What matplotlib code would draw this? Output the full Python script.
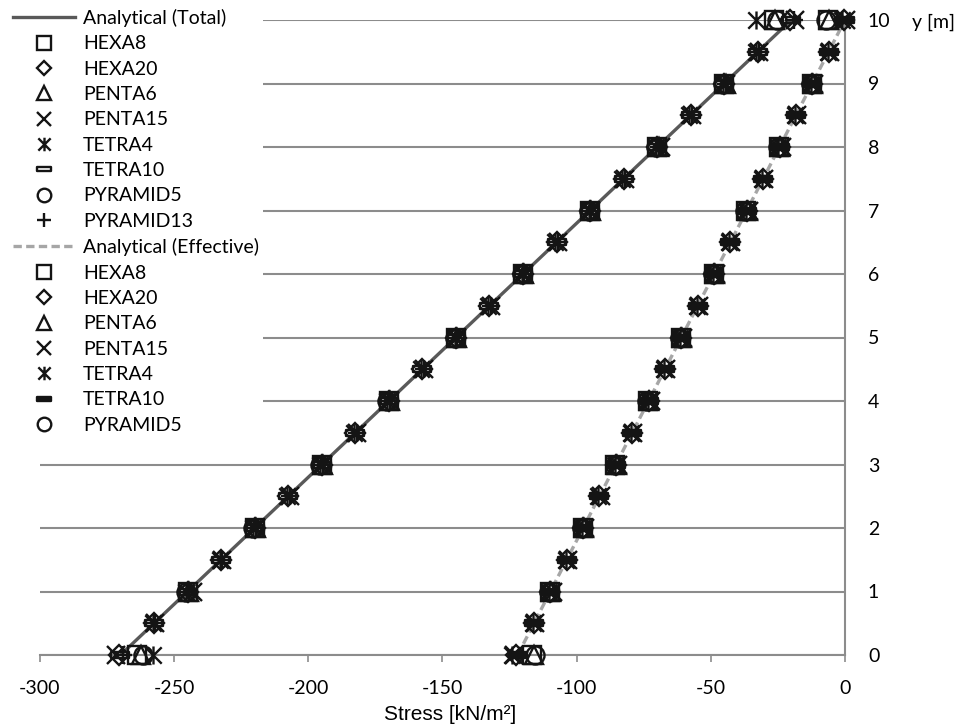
import matplotlib
matplotlib.use("Agg")
import matplotlib.pyplot as plt
from matplotlib.path import Path

plt.rcParams['font.family'] = ['Lato', 'DejaVu Sans']

# ---------------- data ----------------
y_analytical = [0, 10]
total_analytical = [-270.0, -20.0]
effective_analytical = [-122.0, 0.0]

y_int = [0, 1, 2, 3, 4, 5, 6, 7, 8, 9, 10]
y_half = [0, 0.5, 1, 1.5, 2, 2.5, 3, 3.5, 4, 4.5, 5, 5.5, 6, 6.5, 7, 7.5, 8, 8.5, 9, 9.5, 10]

# Total stress (numerical)
hexa8_total = [-264.0, -245.0, -220.0, -195.0, -170.0, -145.0, -120.0, -95.0, -70.0, -45.0, -26.5]
hexa20_total = [-270.5, -257.5, -245.0, -232.5, -220.0, -207.5, -195.0, -182.5, -170.0, -157.5, -145.0,
                -132.5, -120.0, -107.5, -95.0, -82.5, -70.0, -57.5, -45.0, -32.5, -20.5]
penta6_total = [-262.5, -244.5, -219.5, -194.5, -169.5, -144.5, -119.5, -94.5, -69.5, -44.5, -26.0]
penta15_total = [-271.5, -257.0, -243.0, -232.0, -219.5, -207.0, -194.5, -182.0, -169.5, -157.0, -144.5,
                 -132.0, -119.5, -107.0, -94.5, -82.0, -68.5, -57.0, -44.5, -32.0, -18.5]
tetra4_total = [-258.0, -258.0, -245.5, -233.0, -220.5, -208.0, -195.5, -183.0, -170.5, -158.0, -145.5,
                -133.0, -120.5, -108.0, -95.5, -83.0, -70.5, -58.0, -45.5, -33.0, -33.0]
tetra10_total = [-270.0, -257.5, -245.0, -232.5, -220.0, -207.5, -195.0, -182.5, -170.0, -157.5, -145.0,
                 -132.5, -120.0, -107.5, -95.0, -82.5, -70.0, -57.5, -45.0, -32.5, -20.0]
pyramid5_total = [-261.5, -245.5, -220.5, -195.5, -170.5, -145.5, -120.5, -95.5, -70.5, -45.5, -25.5]
pyramid13_total = [-269.0, -257.0, -244.5, -232.0, -219.5, -207.0, -194.5, -182.0, -169.5, -157.0, -144.5,
                   -132.0, -119.5, -107.0, -94.5, -82.0, -69.5, -57.0, -44.5, -32.0, -19.0]

# Effective stress (numerical)
hexa8_eff = [-116.5, -110.0, -97.8, -85.6, -73.4, -61.2, -49.0, -36.8, -24.6, -12.4, -6.5]
hexa20_eff = [-122.5, -115.9, -109.8, -103.7, -97.6, -91.5, -85.4, -79.3, -73.2, -67.1, -61.0,
              -54.9, -48.8, -42.7, -36.6, -30.5, -24.4, -18.3, -12.2, -6.1, -0.5]
penta6_eff = [-116.0, -109.5, -97.3, -85.1, -72.9, -60.7, -48.5, -36.3, -24.1, -11.9, -6.0]
penta15_eff = [-123.5, -115.5, -109.0, -103.3, -96.8, -91.1, -84.6, -78.9, -72.4, -66.7, -60.2,
               -54.5, -48.0, -42.3, -35.8, -30.1, -23.6, -17.9, -11.4, -5.7, 0.5]
tetra4_eff = [-124.0, -116.3, -110.2, -104.1, -98.0, -91.9, -85.8, -79.7, -73.6, -67.5, -61.4,
              -55.3, -49.2, -43.1, -37.0, -30.9, -24.8, -18.7, -12.6, -6.5, -1.0]
tetra10_eff = [-122.0, -115.9, -109.8, -103.7, -97.6, -91.5, -85.4, -79.3, -73.2, -67.1, -61.0,
               -54.9, -48.8, -42.7, -36.6, -30.5, -24.4, -18.3, -12.2, -6.1, 0.0]
pyramid5_eff = [-115.5, -110.3, -98.1, -85.9, -73.7, -61.5, -49.3, -37.1, -24.9, -12.7, -7.0]

x_ticks = [-300, -250, -200, -150, -100, -50, 0]
y_ticks = [0, 1, 2, 3, 4, 5, 6, 7, 8, 9, 10]

# ---------------- markers ----------------
asterisk = Path([(-1, -1), (1, 1), (-1, 1), (1, -1), (0, -1.1), (0, 1.1)],
                [Path.MOVETO, Path.LINETO, Path.MOVETO, Path.LINETO, Path.MOVETO, Path.LINETO])
bar = Path([(-1, -0.32), (1, -0.32), (1, 0.32), (-1, 0.32), (-1, -0.32)],
           [Path.MOVETO, Path.LINETO, Path.LINETO, Path.LINETO, Path.CLOSEPOLY])

FS = 14

fig = plt.figure(figsize=(9.68, 7.24), dpi=100)
ax = fig.add_axes([40 / 968, 1 - 655 / 724, 805 / 968, 635 / 724])

grid_c = '#8c8c8c'
for yv in y_ticks:
    ax.axhline(yv, color=grid_c, lw=1.5, zorder=1)

ec = '#141414'
ms = 13
mew = 1.7

def mk(x, y, marker, label, filled=False, size=ms):
    return ax.plot(x, y, linestyle='none', marker=marker, markersize=size,
                   markerfacecolor=(ec if filled else 'none'), markeredgecolor=ec,
                   markeredgewidth=mew, label=label, zorder=4, clip_on=False)[0]

h = []
h.append(ax.plot(total_analytical, y_analytical, color='#595959', lw=2.4,
                 label='Analytical (Total)', zorder=3)[0])
h.append(mk(hexa8_total, y_int, 's', 'HEXA8'))
h.append(mk(hexa20_total, y_half, 'D', 'HEXA20', size=10))
h.append(mk(penta6_total, y_int, '^', 'PENTA6'))
h.append(mk(penta15_total, y_half, 'x', 'PENTA15'))
h.append(mk(tetra4_total, y_half, asterisk, 'TETRA4'))
h.append(mk(tetra10_total, y_half, bar, 'TETRA10'))
h.append(mk(pyramid5_total, y_int, 'o', 'PYRAMID5'))
h.append(mk(pyramid13_total, y_half, '+', 'PYRAMID13'))

h.append(ax.plot(effective_analytical, y_analytical, color='#a6a6a6', lw=2.4,
                 linestyle=(0, (2.5, 1.3)), label='Analytical (Effective)', zorder=3)[0])
h.append(mk(hexa8_eff, y_int, 's', 'HEXA8'))
h.append(mk(hexa20_eff, y_half, 'D', 'HEXA20', size=10))
h.append(mk(penta6_eff, y_int, '^', 'PENTA6'))
h.append(mk(penta15_eff, y_half, 'x', 'PENTA15'))
h.append(mk(tetra4_eff, y_half, asterisk, 'TETRA4'))
h.append(mk(tetra10_eff, y_half, bar, 'TETRA10', filled=True))
h.append(mk(pyramid5_eff, y_int, 'o', 'PYRAMID5'))

ax.set_xlim(-300, 0)
ax.set_ylim(0, 10)

for s in ['top', 'left']:
    ax.spines[s].set_visible(False)
ax.spines['right'].set_color(grid_c)
ax.spines['right'].set_linewidth(1.5)
ax.spines['bottom'].set_color(grid_c)
ax.spines['bottom'].set_linewidth(1.5)

ax.yaxis.tick_right()
ax.set_yticks(y_ticks)
ax.set_yticklabels([str(v) for v in y_ticks])
ax.tick_params(axis='y', length=0, pad=16.5, labelsize=FS, colors='black')
ax.set_xticks(x_ticks)
ax.set_xticklabels([str(v) for v in x_ticks])
ax.tick_params(axis='x', direction='out', length=5, width=1.2, color=grid_c,
               pad=13, labelsize=FS, labelcolor='black')

fig.text(450 / 968, 1 - 714 / 724, 'Stress [kN/m²]', fontsize=15,
         family=['Liberation Sans', 'DejaVu Sans'], ha='center', va='center')
fig.text(934 / 968, 1 - 22 / 724, 'y [m]', fontsize=FS, ha='center', va='center')

leg = ax.legend(handles=h, loc='upper left', bbox_to_anchor=(9 / 968, 1 - 5 / 724),
                bbox_transform=fig.transFigure,
                fontsize=FS, frameon=True, framealpha=1, facecolor='white', edgecolor='none',
                handlelength=3.2, handletextpad=0.41, labelspacing=0.43, borderpad=0.2,
                borderaxespad=0.0, markerscale=0.75, fancybox=False)
leg.set_zorder(10)

fig.savefig('out.png', dpi=100)
